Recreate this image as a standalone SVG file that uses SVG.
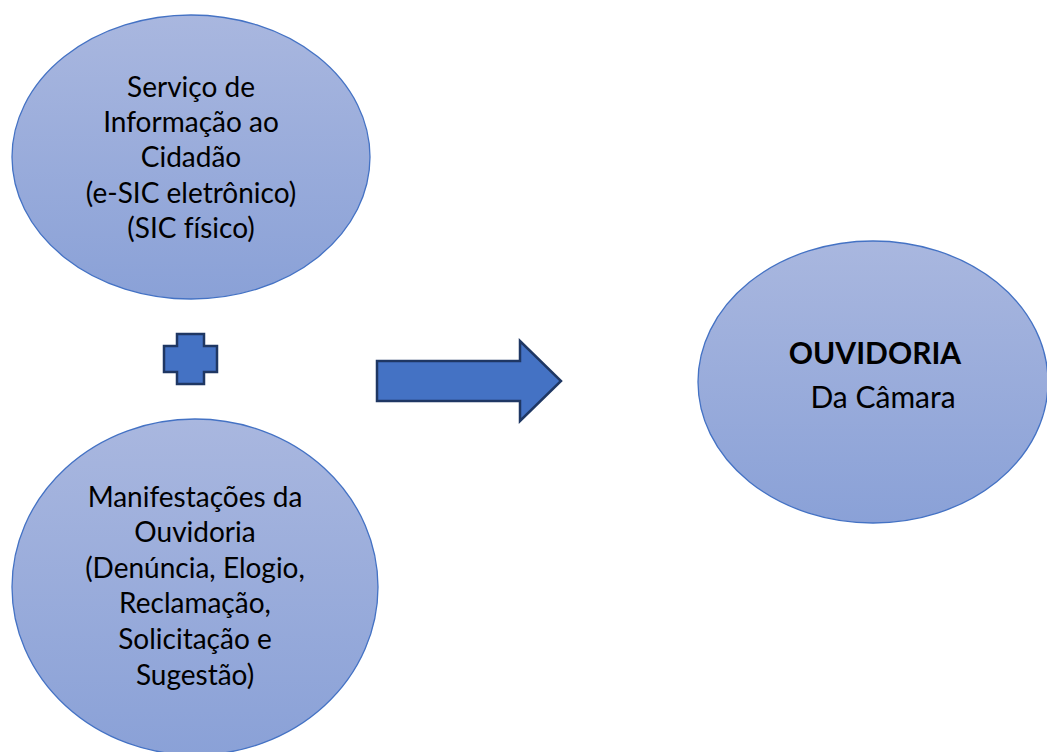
<svg xmlns="http://www.w3.org/2000/svg" width="1047" height="752" viewBox="0 0 1047 752">
  <defs>
    <linearGradient id="g" x1="0" y1="0" x2="0" y2="1">
      <stop offset="0" stop-color="#A9B7DF"/>
      <stop offset="1" stop-color="#8AA1D7"/>
    </linearGradient>
    <style>
      .ell { fill: url(#g); stroke: #4472C4; stroke-width: 1.3; }
      .shape { fill: #4472C4; stroke: #1F3763; stroke-width: 2.5; stroke-linejoin: miter; }
      .t { font-family: Lato, "Open Sans", sans-serif; font-size: 28px; fill: #000; text-anchor: middle; font-variant-ligatures: none; }
      .r { font-size: 30px; }
      .b { font-weight: bold; }
    </style>
  </defs>
  <rect width="1047" height="752" fill="#FFFFFF"/>
  <g id="node-sic">
    <ellipse class="ell" cx="191" cy="157" rx="179" ry="142"/>
    <text class="t" x="191" y="97">Serviço de</text>
    <text class="t" x="191" y="132">Informação ao</text>
    <text class="t" x="191" y="167">Cidadão</text>
    <text class="t" x="191" y="203">(e-SIC eletrônico)</text>
    <text class="t" x="191" y="238">(SIC físico)</text>
  </g>
  <g id="node-plus">
    <path class="shape" d="M177,334 H204 V346 H217 V372 H204 V384 H177 V372 H164 V346 H177 Z"/>
  </g>
  <g id="node-manifestacoes">
    <ellipse class="ell" cx="195" cy="587" rx="183" ry="168"/>
    <text class="t" x="195" y="507">Manifestações da</text>
    <text class="t" x="195" y="542">Ouvidoria</text>
    <text class="t" x="195" y="578">(Denúncia, Elogio,</text>
    <text class="t" x="195" y="613">Reclamação,</text>
    <text class="t" x="195" y="649">Solicitação e</text>
    <text class="t" x="195" y="685">Sugestão)</text>
  </g>
  <g id="node-ouvidoria">
    <ellipse class="ell" cx="873" cy="382" rx="175" ry="141"/>
    <text class="t r b" x="875" y="364">OUVIDORIA</text>
    <text class="t r" x="883" y="408">Da Câmara</text>
  </g>
  <g id="connectors">
    <path class="shape" d="M377,361 H520 V341 L561,381 L520,421 V401 H377 Z"/>
  </g>
</svg>
